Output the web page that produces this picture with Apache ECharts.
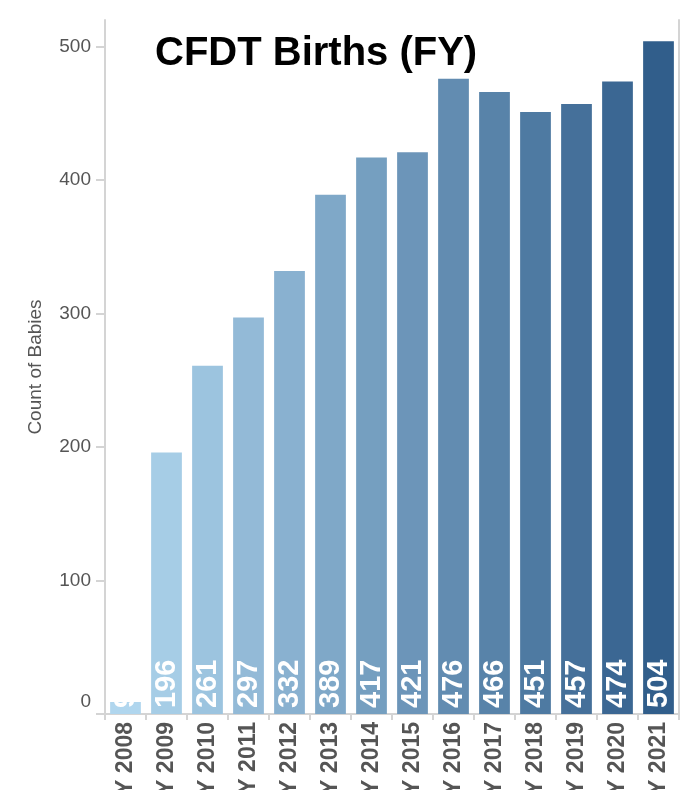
<!DOCTYPE html>
<html>
<head>
<meta charset="utf-8">
<script src="https://cdn.jsdelivr.net/npm/echarts@6/dist/echarts.min.js"></script>
<style>
  html, body { margin: 0; padding: 0; background: #fff; }
  #chart { width: 685px; height: 790px; }
</style>
</head>
<body>
<div id="chart"></div>
<script>
// data
const years = ['FY 2008', 'FY 2009', 'FY 2010', 'FY 2011', 'FY 2012', 'FY 2013', 'FY 2014',
  'FY 2015', 'FY 2016', 'FY 2017', 'FY 2018', 'FY 2019', 'FY 2020', 'FY 2021'];
const births = [9, 196, 261, 297, 332, 389, 417, 421, 476, 466, 451, 457, 474, 504];
const yTicks = [0, 100, 200, 300, 400, 500];

// light -> dark blue, one shade per year
const light = [176, 214, 238], dark = [49, 94, 139];
function shade(i) {
  const t = i / (years.length - 1);
  const c = light.map((v, k) => Math.round(v + (dark[k] - v) * t));
  return 'rgb(' + c.join(',') + ')';
}

const narrow = '"Liberation Sans Narrow", "Liberation Sans", Arial, sans-serif';
const axisGray = '#d4d4d4';

const chart = echarts.init(document.getElementById('chart'), null, { renderer: 'canvas' });
chart.setOption({
  animation: false,
  title: {
    text: 'CFDT Births (FY)',
    left: 150,
    top: 29,
    textStyle: { fontFamily: '"Liberation Sans", Arial, sans-serif', fontWeight: 'bold', fontSize: 40, color: '#000' }
  },
  grid: { left: 105, right: 6, top: 20, bottom: 76, outerBoundsMode: 'none', containLabel: false },
  xAxis: {
    type: 'category',
    data: years,
    axisLine: { lineStyle: { color: axisGray, width: 2 } },
    axisTick: { show: true, length: 6, lineStyle: { color: axisGray, width: 2 } },
    axisLabel: {
      rotate: 90,
      margin: 8,
      color: '#555',
      fontFamily: narrow,
      fontWeight: 'bold',
      fontSize: 23,
      interval: 0
    }
  },
  yAxis: [{
    type: 'value',
    min: 0,
    max: 520,
    interval: 100,
    name: 'Count of Babies',
    nameLocation: 'middle',
    nameGap: 60,
    nameTextStyle: { color: '#555', fontSize: 19, fontFamily: '"Liberation Sans", Arial, sans-serif' },
    splitLine: { show: false },
    axisLine: { show: true, lineStyle: { color: axisGray, width: 2 } },
    axisTick: { show: true, length: 9, lineStyle: { color: axisGray, width: 2 } },
    axisLabel: {
      margin: 14,
      color: '#555',
      fontSize: 19,
      fontFamily: '"Liberation Sans", Arial, sans-serif',
      showMaxLabel: false,
      // the zero label sits a bit above the baseline in the original
      formatter: v => (v === 0 ? '{z|0}' : (yTicks.indexOf(v) >= 0 ? v : '')),
      rich: {
        z: { color: '#555', fontSize: 19, fontFamily: '"Liberation Sans", Arial, sans-serif', padding: [0, 0, 24, 0] }
      }
    }
  }, {
    type: 'value',
    position: 'right',
    min: 0,
    max: 520,
    splitLine: { show: false },
    axisLine: { show: true, lineStyle: { color: axisGray, width: 2 } },
    axisTick: { show: false },
    axisLabel: { show: false }
  }],
  series: [{
    type: 'bar',
    barCategoryGap: '25%',
    data: births.map((v, i) => ({ value: v, itemStyle: { color: shade(i) } })),
    label: {
      show: true,
      position: 'insideBottom',
      rotate: 90,
      align: 'left',
      verticalAlign: 'middle',
      distance: 6,
      color: '#fff',
      fontFamily: narrow,
      fontWeight: 'bold',
      fontSize: 29
    }
  }]
});
</script>
</body>
</html>
